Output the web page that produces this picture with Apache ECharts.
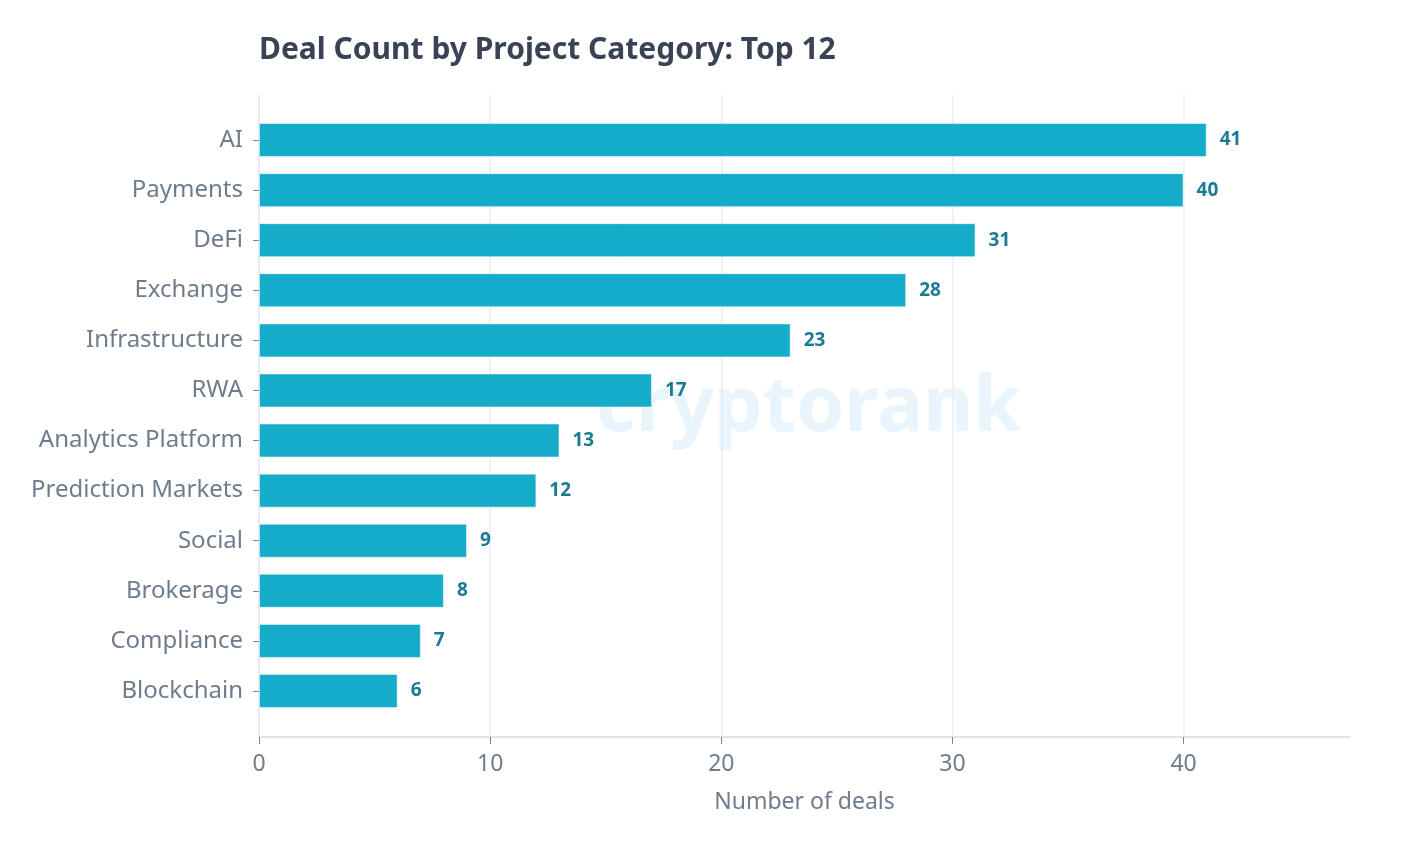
<!DOCTYPE html>
<html>
<head>
<meta charset="utf-8">
<script src="https://cdn.jsdelivr.net/npm/echarts@6/dist/echarts.min.js"></script>
<style>
html,body{margin:0;padding:0;background:#fff;}
#c{width:1415px;height:849px;}
</style>
</head>
<body>
<div id="c"></div>
<script>
const categories = ['AI','Payments','DeFi','Exchange','Infrastructure','RWA','Analytics Platform','Prediction Markets','Social','Brokerage','Compliance','Blockchain'];
const dealCounts = [41,40,31,28,23,17,13,12,9,8,7,6];
const xTicks = [0,10,20,30,40];
const titleText = 'Deal Count by Project Category: Top 12';
const xAxisName = 'Number of deals';
const watermark = 'cryptorank';

const FONT = '"Noto Sans", Lato, sans-serif';
const XMAX = 47.2;
const chart = echarts.init(document.getElementById('c'));
chart.setOption({
  backgroundColor: '#ffffff',
  animation: false,
  title: {
    text: titleText, left: 254, top: 30,
    textStyle: {fontFamily: FONT, fontSize: 30, fontWeight: 'bold', color: '#3a4256'}
  },
  graphic: [{
    type: 'text', left: 596, top: 371, z: -10, silent: true,
    style: {text: watermark, fontFamily: FONT, fontSize: 77, fontWeight: 'bold', fill: '#eaf4fd'}
  }],
  grid: [
    {left: 259, right: 65, top: 115, bottom: 133},
    {left: 259, right: 65, top: 95, bottom: 112}
  ],
  xAxis: [
    {gridIndex: 0, type: 'value', min: 0, max: XMAX, show: false},
    {gridIndex: 1, type: 'value', min: 0, max: XMAX, interval: 10,
     axisLine: {show: true, lineStyle: {color: '#dfe5ec', width: 2}},
     axisTick: {show: true, length: 7, lineStyle: {color: '#7a8797'}, customValues: xTicks},
     axisLabel: {customValues: xTicks, fontFamily: FONT, fontSize: 23, color: '#6e7c8c', margin: 16},
     splitLine: {show: true, lineStyle: {color: '#e9edf2', width: 1.5}},
     name: xAxisName, nameLocation: 'middle', nameGap: 54,
     nameTextStyle: {fontFamily: FONT, fontSize: 23, color: '#6e7c8c'}}
  ],
  yAxis: [
    {gridIndex: 0, type: 'category', data: categories, inverse: true,
     axisLine: {show: false},
     axisTick: {show: true, alignWithLabel: true, length: 6, lineStyle: {color: '#7a8797'}},
     axisLabel: {fontFamily: FONT, fontSize: 24, color: '#6e7c8c', margin: 16}},
    {gridIndex: 1, type: 'value', min: 0, max: 1,
     axisLine: {show: true, lineStyle: {color: '#e4e9ef', width: 1.5}},
     axisTick: {show: false}, axisLabel: {show: false}, splitLine: {show: false}}
  ],
  series: [{
    type: 'bar', xAxisIndex: 0, yAxisIndex: 0,
    data: dealCounts, barWidth: 34, z: 5,
    itemStyle: {color: '#15acca', borderColor: 'rgba(255,255,255,0.5)', borderWidth: 1},
    label: {show: true, position: 'right', distance: 13, fontFamily: FONT, fontSize: 19, fontWeight: 'bold', color: '#1b7b93'}
  }]
});
</script>
</body>
</html>
